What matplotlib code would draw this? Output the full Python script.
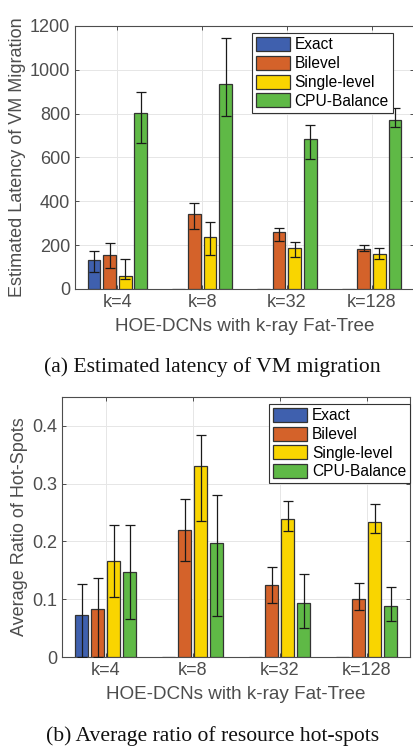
import numpy as np
import matplotlib
matplotlib.use('Agg')
import matplotlib.pyplot as plt

plt.rcParams['font.family'] = ['Liberation Sans', 'DejaVu Sans']

# Data
groups = ['k=4', 'k=8', 'k=32', 'k=128']
methods = ['Exact', 'Bilevel', 'Single-level', 'CPU-Balance']
colors = ['#3f60ae', '#d4622a', '#f9d500', '#5fb946']

# (a) latency: values with lower / upper ends of the error bars
lat_exact = [132, 0, 0, 0]
lat_exact_lo = [79, np.nan, np.nan, np.nan]
lat_exact_hi = [175, np.nan, np.nan, np.nan]
lat_bilevel = [154, 344, 259, 184]
lat_bilevel_lo = [94, 275, 218, 175]
lat_bilevel_hi = [208, 394, 280, 202]
lat_single = [61, 239, 187, 161]
lat_single_lo = [44, 154, 145, 135]
lat_single_hi = [135, 306, 216, 186]
lat_cpu = [802, 934, 683, 771]
lat_cpu_lo = [667, 789, 592, 740]
lat_cpu_hi = [900, 1144, 750, 827]

# (b) hot-spot ratio
hot_exact = [0.073, 0, 0, 0]
hot_exact_lo = [0.0, np.nan, np.nan, np.nan]
hot_exact_hi = [0.126, np.nan, np.nan, np.nan]
hot_bilevel = [0.083, 0.220, 0.125, 0.100]
hot_bilevel_lo = [0.0, 0.167, 0.094, 0.081]
hot_bilevel_hi = [0.136, 0.274, 0.156, 0.128]
hot_single = [0.166, 0.330, 0.239, 0.234]
hot_single_lo = [0.103, 0.235, 0.218, 0.215]
hot_single_hi = [0.229, 0.384, 0.270, 0.265]
hot_cpu = [0.147, 0.197, 0.093, 0.088]
hot_cpu_lo = [0.065, 0.071, 0.051, 0.062]
hot_cpu_hi = [0.229, 0.280, 0.144, 0.121]

lat_series = [(lat_exact, lat_exact_lo, lat_exact_hi),
              (lat_bilevel, lat_bilevel_lo, lat_bilevel_hi),
              (lat_single, lat_single_lo, lat_single_hi),
              (lat_cpu, lat_cpu_lo, lat_cpu_hi)]
hot_series = [(hot_exact, hot_exact_lo, hot_exact_hi),
              (hot_bilevel, hot_bilevel_lo, hot_bilevel_hi),
              (hot_single, hot_single_lo, hot_single_hi),
              (hot_cpu, hot_cpu_lo, hot_cpu_hi)]

GRAY = '#4d4d4d'
fig = plt.figure(figsize=(4.14, 7.47), dpi=100)
ax1 = fig.add_axes([75 / 414, 1 - 289 / 747, 339 / 414, 263 / 747])
ax2 = fig.add_axes([62.5 / 414, 1 - 657 / 747, 347.5 / 414, 260 / 747])


def draw(ax, series, ylim, yticks, ylabel, legend_anchor):
    x = np.arange(1, len(groups) + 1)
    step = 0.184
    for i, (vals, lo, hi) in enumerate(series):
        vals = np.array(vals, dtype=float)
        err = np.array([vals - np.array(lo, dtype=float), np.array(hi, dtype=float) - vals])
        pos = x + (i - 1.5) * step
        ax.bar(pos, vals, width=0.15, color=colors[i], edgecolor='#333333',
               linewidth=0.9, label=methods[i], zorder=3)
        ax.errorbar(pos, vals, yerr=err, fmt='none', ecolor='#1a1a1a',
                    elinewidth=0.9, capsize=3.5, capthick=0.9, zorder=4)
    ax.set_xlim(0.5, 4.5)
    ax.set_ylim(*ylim)
    ax.set_xticks(x)
    ax.set_xticklabels(groups)
    ax.set_yticks(yticks)
    ax.grid(True, color='#e6e6e6', linewidth=0.7, zorder=0)
    ax.set_axisbelow(True)
    ax.tick_params(direction='in', top=True, right=True, length=3,
                   colors=GRAY, labelsize=13, labelcolor=GRAY, width=0.7)
    for s in ax.spines.values():
        s.set_color(GRAY)
        s.set_linewidth(0.8)
    ax.set_xlabel('HOE-DCNs with k-ray Fat-Tree', fontsize=13.6, color=GRAY, labelpad=5)
    ax.set_ylabel(ylabel, fontsize=13, color=GRAY, labelpad=3)
    leg = ax.legend(loc='upper left', bbox_to_anchor=legend_anchor, fontsize=11.2,
                    fancybox=False, framealpha=1, edgecolor='#333333',
                    handlelength=2.2, handleheight=1.0, handletextpad=0.3,
                    labelspacing=0.22, borderpad=0.25, borderaxespad=0)
    leg.get_frame().set_linewidth(0.8)


draw(ax1, lat_series, (0, 1200), [0, 200, 400, 600, 800, 1000, 1200],
     'Estimated Latency of VM Migration', ((251.7 - 75) / 339, (289 - 33.3) / 263))
ax1.set_yticklabels(['0', '200', '400', '600', '800', '1000', '1200'])
draw(ax2, hot_series, (0, 0.45), [0, 0.1, 0.2, 0.3, 0.4],
     'Average Ratio of Hot-Spots', ((269 - 62.5) / 347.5, (657 - 404) / 260))
ax2.set_yticklabels(['0', '0.1', '0.2', '0.3', '0.4'])

fig.text(212.5 / 414, 1 - 367 / 747, '(a) Estimated latency of VM migration',
         ha='center', va='center', fontsize=15.6, family='Liberation Serif', color='#111111')
fig.text(213 / 414, 1 - 736.5 / 747, '(b) Average ratio of resource hot-spots',
         ha='center', va='center', fontsize=15.6, family='Liberation Serif', color='#111111')

fig.savefig('out.png', dpi=100)
